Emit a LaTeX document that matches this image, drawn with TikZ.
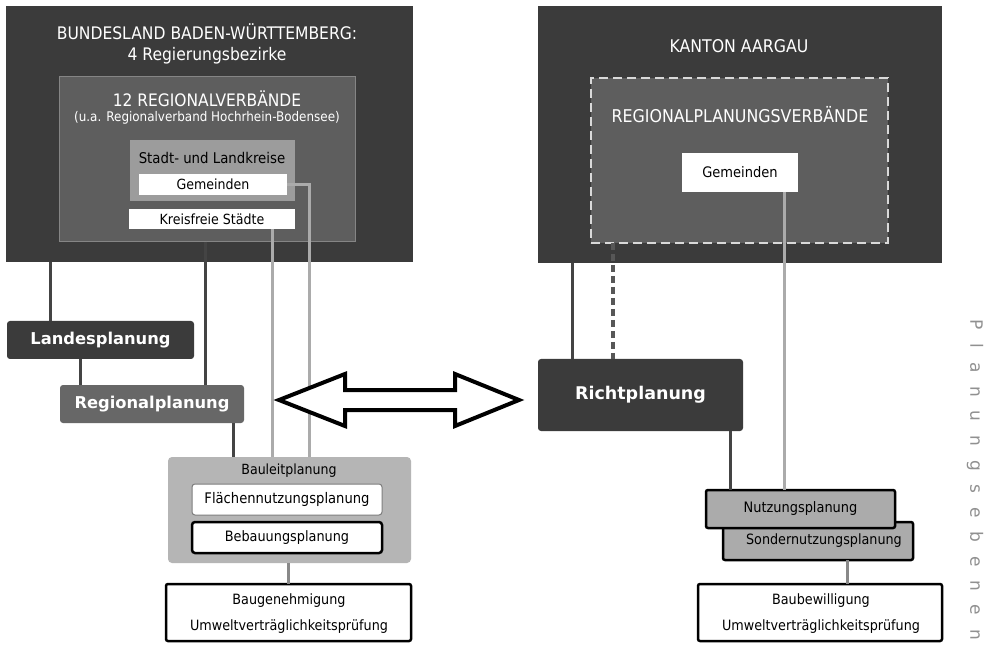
\documentclass[tikz,border=0pt]{standalone}
\usepackage{fontspec}
\setmainfont{DejaVu Sans}
\newfontfamily\cond{DejaVu Sans Condensed}
\usetikzlibrary{calc}
\definecolor{dark}{HTML}{3B3B3B}
\definecolor{mid}{HTML}{5E5E5E}
\definecolor{midline}{HTML}{858585}
\definecolor{reg}{HTML}{676767}
\definecolor{stadt}{HTML}{9C9C9C}
\definecolor{bauleit}{HTML}{B5B5B5}
\definecolor{nutz}{HTML}{ABABAB}
\definecolor{lightline}{HTML}{ABABAB}
\definecolor{darkline}{HTML}{444444}
\definecolor{txtgray}{HTML}{909090}
\begin{document}
\begin{tikzpicture}[x=1pt,y=-1pt,
  box/.style={rectangle,inner sep=0pt,outer sep=0pt,anchor=north west},
  plain/.style={font=\cond\fontsize{#1}{#1}\selectfont},
  whitetxt/.style={text=white},
  planbox/.style={box,rounded corners=3pt,text=white,font=\bfseries\fontsize{16.3}{16.3}\selectfont},
  dline/.style={draw=darkline,line width=3pt},
  lline/.style={draw=lightline,line width=3pt},
  gline/.style={draw=lightline!80!black,line width=3pt}
]
\useasboundingbox (0,0) rectangle (997,647);
\fill[white] (0,0) rectangle (997,647);

% ---------- left block ----------
\node[box,fill=dark,minimum width=407pt,minimum height=256pt] (bw) at (6,6) {};
\node[plain=17.3,whitetxt] (bwt1) at (207,32) {BUNDESLAND BADEN-WÜRTTEMBERG:};
\node[plain=17.3,whitetxt] (bwt2) at (207,56) {4 Regierungsbezirke};
\node[box,fill=mid,draw=midline,line width=1pt,minimum width=296pt,minimum height=165pt] (rv) at (59,77) {};
\node[plain=17.2,whitetxt] (rvt1) at (207,99) {12 REGIONALVERBÄNDE};
\node[plain=13.3,whitetxt] (rvt2) at (207,118) {(u.a. Regionalverband Hochrhein-Bodensee)};
\node[box,fill=stadt,minimum width=165pt,minimum height=61pt] (sl) at (130,140) {};
\node[plain=14.8] (slt) at (212,158) {Stadt- und Landkreise};
\node[box,fill=white,minimum width=148pt,minimum height=21pt,plain=14] (gem) at (139,174) {Gemeinden};
\node[box,fill=white,minimum width=166pt,minimum height=20pt,plain=14] (kfs) at (129,209) {Kreisfreie Städte};

\node[planbox,fill=dark,minimum width=187pt,minimum height=38pt] (lp) at (7,321) {Landesplanung};
\node[planbox,fill=reg,minimum width=184pt,minimum height=38pt] (rp) at (60,385) {Regionalplanung};

\node[box,fill=bauleit,rounded corners=4pt,minimum width=243pt,minimum height=106pt] (bl) at (168,457) {};
\node[plain=14] (blt) at (289,471) {Bauleitplanung};
\node[box,fill=white,draw=darkline!70,line width=1pt,rounded corners=3pt,minimum width=190pt,minimum height=31pt,plain=14.6] (fnp) at (192,484) {Flächennutzungsplanung};
\node[box,fill=white,draw=black,line width=2.5pt,rounded corners=3pt,minimum width=190pt,minimum height=31pt,plain=14.3] (bbp) at (192,522) {Bebauungsplanung};
\node[box,fill=white,draw=black,line width=2.5pt,rounded corners=2pt,minimum width=245pt,minimum height=57pt] (bg) at (166,584) {};
\node[plain=14.2] (bgt1) at (289,601) {Baugenehmigung};
\node[plain=14.2] (bgt2) at (289,627) {Umweltverträglichkeitsprüfung};

% left connectors
\draw[dline] (bw.south -| 50,0) -- (lp.north -| 50,0);
\draw[dline] (lp.south -| 80,0) -- (rp.north -| 80,0);
\draw[dline] (rv.south -| 205,0) -- (rp.north -| 205,0);
\draw[dline] (rp.south -| 233,0) -- (bl.north -| 233,0);
\draw[lline] (kfs.south -| 272,0) -- (bl.north -| 272,0);
\draw[lline] (gem.east) -- (gem.east -| 309,0) -- (bl.north -| 309,0);
\draw[gline] (bl.south -| 288,0) -- (bg.north -| 288,0);

% ---------- double arrow ----------
\draw[line width=4pt,line join=miter,fill=white]
  (279,400) -- (345,374) -- (345,390) -- (455,390) -- (455,374) -- (519,400)
  -- (455,426) -- (455,410) -- (345,410) -- (345,426) -- cycle;

% ---------- right block ----------
\node[box,fill=dark,minimum width=404pt,minimum height=257pt] (ka) at (538,6) {};
\node[plain=17.5,whitetxt] (kat) at (739,46) {KANTON AARGAU};
\node[box,fill=mid,draw=white!85!black,line width=2pt,dash pattern=on 9pt off 5pt,minimum width=297pt,minimum height=165pt] (rpv) at (591,78) {};
\node[plain=17.6,whitetxt] (rpvt) at (740,115) {REGIONALPLANUNGSVERBÄNDE};
\node[box,fill=white,minimum width=116pt,minimum height=39pt,plain=14.5] (gem2) at (682,153) {Gemeinden};

\node[planbox,fill=dark,minimum width=205pt,minimum height=72pt,font=\bfseries\fontsize{17.5}{17.5}\selectfont] (rip) at (538,359) {Richtplanung};

\node[box,fill=nutz,draw=black,line width=2.5pt,rounded corners=2pt,minimum width=190pt,minimum height=38pt,plain=14.2] (snp) at (723,522) {\hspace*{12pt}Sondernutzungsplanung};
\node[box,fill=nutz,draw=black,line width=2.5pt,rounded corners=2pt,minimum width=189pt,minimum height=38pt,plain=14.4] (nup) at (706,490) {Nutzungsplanung};
\node[box,fill=white,draw=black,line width=2.5pt,rounded corners=2pt,minimum width=244pt,minimum height=57pt] (bb) at (698,584) {};
\node[plain=14.2] (bbt1) at (821,601) {Baubewilligung};
\node[plain=14.2] (bbt2) at (821,627) {Umweltverträglichkeitsprüfung};

% right connectors
\draw[dline] (ka.south -| 572,0) -- (rip.north -| 572,0);
\draw[dline,line width=4pt,draw=darkline!90,dash pattern=on 7pt off 4pt] (rpv.south -| 613,0) -- (rip.north -| 613,0);
\draw[lline] (gem2.south -| 784,0) -- (nup.north -| 784,0);
\draw[dline] (rip.south -| 730,0) -- (nup.north -| 730,0);
\draw[gline] (snp.south -| 847,0) -- (bb.north -| 847,0);

% vertical label
\node[rotate=-90,text=txtgray,font=\fontsize{17}{17}\selectfont,anchor=west] (pe) at (975,316)
  {P\hspace{13.8pt}l\hspace{13.8pt}a\hspace{13.8pt}n\hspace{13.8pt}u\hspace{13.8pt}n\hspace{13.8pt}g\hspace{13.8pt}s\hspace{13.8pt}e\hspace{13.8pt}b\hspace{13.8pt}e\hspace{13.8pt}n\hspace{13.8pt}e\hspace{13.8pt}n};
\end{tikzpicture}
\end{document}
